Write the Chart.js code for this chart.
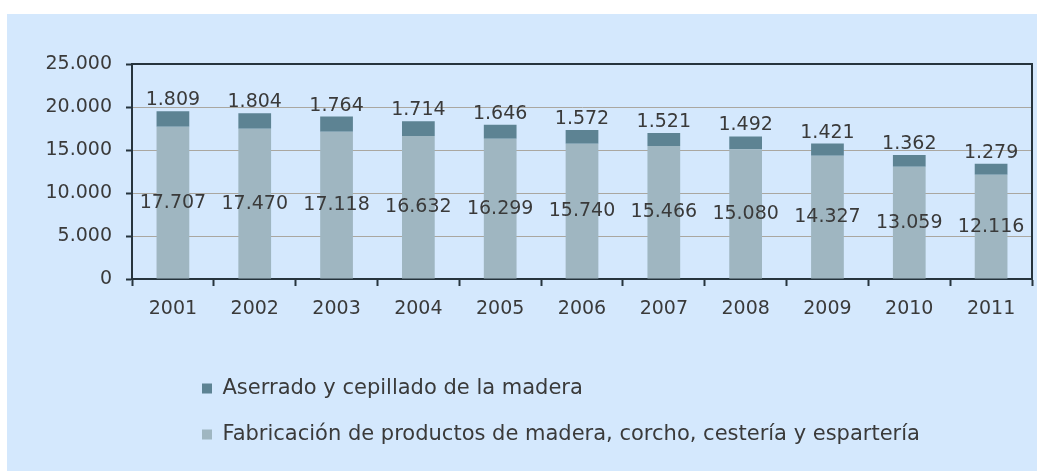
<!DOCTYPE html>
<html>
<head>
<meta charset="utf-8">
<script src="https://cdn.jsdelivr.net/npm/chart.js@4.4.1/dist/chart.umd.min.js"></script>
<style>
  body { margin: 0; background: #ffffff; }
  #marco { position: absolute; left: 7px; top: 14px; width: 1030px; height: 457px; background: #d4e8fd; }
</style>
</head>
<body>
<div id="marco"><canvas id="grafico"></canvas></div>
<script>
var anios = ["2001", "2002", "2003", "2004", "2005", "2006", "2007", "2008", "2009", "2010", "2011"];
var fabricacion = [17707, 17470, 17118, 16632, 16299, 15740, 15466, 15080, 14327, 13059, 12116];
var aserrado = [1809, 1804, 1764, 1714, 1646, 1572, 1521, 1492, 1421, 1362, 1279];
var ticksEje = [0, 5000, 10000, 15000, 20000, 25000];

var colorTexto = "#3a3a3a";
var colorEje = "#26343d";
var fuente = "'DejaVu Sans', sans-serif";

// 1809 -> "1.809"
function puntos(n) {
  return String(n).replace(/\B(?=(\d{3})+(?!\d))/g, ".");
}

// etiquetas de valor: dentro (centro) para la serie de abajo, encima para la de arriba
const etiquetas = {
  id: "etiquetas",
  afterDatasetsDraw(chart) {
    const ctx = chart.ctx;
    ctx.save();
    ctx.font = "19px " + fuente;
    ctx.fillStyle = colorTexto;
    ctx.textAlign = "center";
    ctx.textBaseline = "middle";
    chart.data.datasets.forEach((ds, i) => {
      chart.getDatasetMeta(i).data.forEach((bar, j) => {
        const y = i === 0 ? (bar.y + bar.base) / 2 : bar.y - 11;
        ctx.fillText(puntos(ds.data[j]), bar.x, y);
      });
    });
    ctx.restore();
  }
};

// borde del area de trazado
const recuadro = {
  id: "recuadro",
  beforeDatasetsDraw(chart) {
    const a = chart.chartArea;
    const ctx = chart.ctx;
    ctx.save();
    ctx.strokeStyle = colorEje;
    ctx.lineWidth = 2;
    ctx.strokeRect(a.left, a.top, a.right - a.left, a.bottom - a.top);
    ctx.restore();
  }
};

// la leyenda empieza debajo del grafico, no en el borde
const leyendaIzq = {
  id: "leyendaIzq",
  afterLayout(chart) {
    chart.legend.left = 170;
  }
};

const datos = {
  labels: anios,
  datasets: [
    {
      label: "Fabricación de productos de madera, corcho, cestería y espartería",
      data: fabricacion,
      backgroundColor: "#9fb6c1",
      borderWidth: 0,
    },
    {
      label: "Aserrado y cepillado de la madera",
      data: aserrado,
      backgroundColor: "#5d8393",
      borderWidth: 0,
    }
  ]
};

const config = {
  type: "bar",
  data: datos,
  options: {
    responsive: true,
    maintainAspectRatio: false,
    animation: false,
    layout: { padding: { top: 50, right: 5, left: 0, bottom: 16 } },
    datasets: { bar: { barPercentage: 0.4, categoryPercentage: 1.0 } },
    scales: {
      x: {
        stacked: true,
        afterFit: function (scale) { scale.height = 74; },
        grid: { drawOnChartArea: false, drawTicks: true, tickLength: 7, tickColor: colorEje, tickWidth: 2 },
        border: { color: colorEje, width: 2 },
        ticks: { color: colorTexto, font: { family: fuente, size: 19 }, padding: 12 }
      },
      y: {
        stacked: true,
        min: 0,
        max: 25000,
        afterFit: function (scale) { scale.width = 125; },
        afterBuildTicks: function (scale) {
          scale.ticks = ticksEje.map(function (v) { return { value: v }; });
        },
        grid: { color: "#aaa7a0", lineWidth: 1, tickLength: 6, tickColor: colorEje, tickWidth: 2 },
        border: { color: colorEje, width: 2 },
        ticks: {
          color: colorTexto,
          font: { family: fuente, size: 19 },
          padding: 14,
          callback: function (v) { return puntos(v); }
        }
      }
    },
    plugins: {
      tooltip: { enabled: false },
      legend: {
        position: "bottom",
        align: "start",
        reverse: true,
        labels: {
          color: colorTexto,
          font: { family: fuente, size: 21 },
          boxWidth: 10,
          boxHeight: 10,
          padding: 25
        }
      }
    }
  },
  plugins: [etiquetas, recuadro, leyendaIzq]
};

new Chart(document.getElementById("grafico"), config);
</script>
</body>
</html>
